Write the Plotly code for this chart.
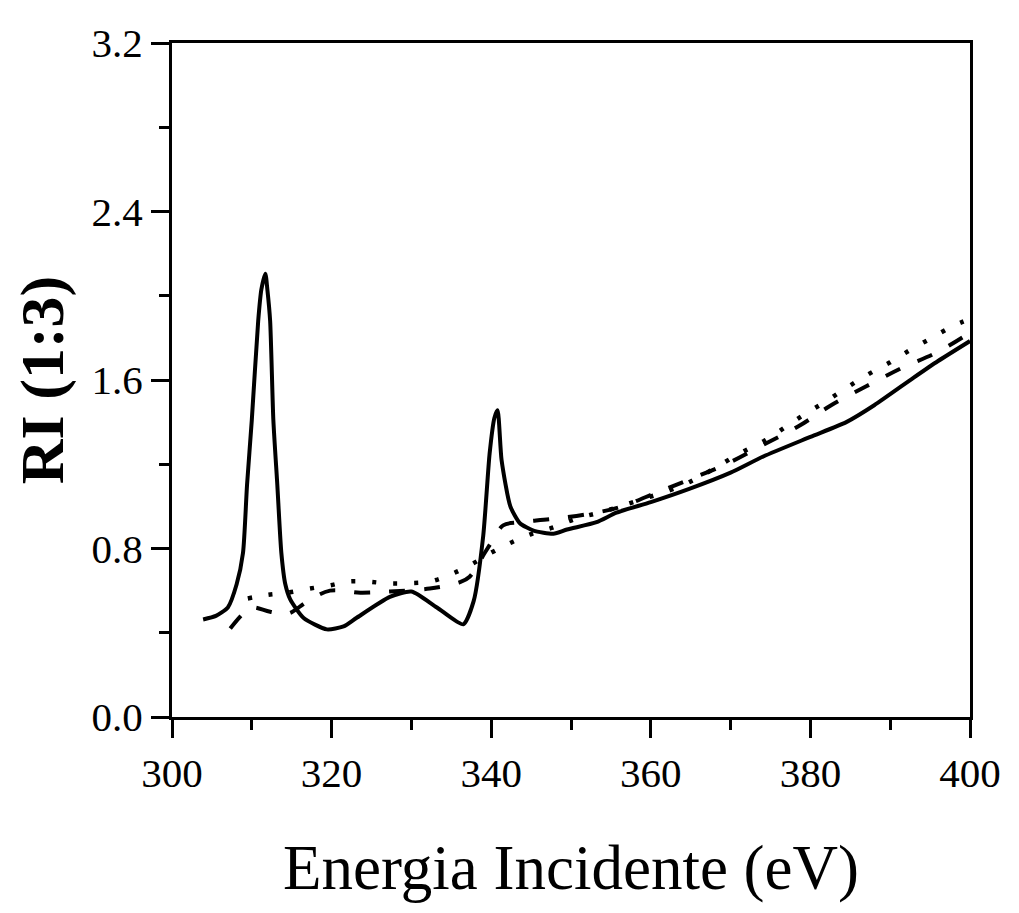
import plotly.graph_objects as go

# Solid curve
solid_e = [303.9, 305.5, 307.0, 308.1, 308.9, 309.4, 310.0, 310.8, 311.2, 311.7,
           311.95, 312.3, 312.7, 313.2, 313.7, 314.2, 314.8, 316.5, 319.4, 321.5,
           323.1, 327.3, 330.0, 333.2, 336.5, 337.8, 339.0, 339.8, 340.4, 340.8,
           341.3, 342.4, 343.6, 345.3, 347.8, 349.5, 353.2, 355.7, 360.0,
           364.9, 370.0, 374.1, 380.0, 384.5, 388.0, 392.9, 396.0, 400.0]
solid_ri = [0.463, 0.48, 0.52, 0.63, 0.78, 1.10, 1.41, 1.88, 2.03, 2.105,
            2.03, 1.88, 1.41, 1.10, 0.78, 0.63, 0.56, 0.47, 0.416, 0.43,
            0.47, 0.57, 0.596, 0.52, 0.44, 0.55, 0.86, 1.25, 1.42, 1.456,
            1.22, 1.0, 0.92, 0.885, 0.87, 0.89, 0.925, 0.97, 1.02,
            1.084, 1.16, 1.237, 1.33, 1.40, 1.48, 1.61, 1.69, 1.785]

# Dashed curve
dash_e = [307.3, 308.9, 310.0, 312.3, 314.5, 317.0, 319.8, 323.6, 327.3, 332.3,
          336.1, 337.3, 339.2, 340.2, 341.5, 343.5, 347.5, 352.0, 356.0, 361.0,
          365.0, 369.7, 374.0, 378.5, 382.6, 387.0, 391.6, 395.8, 400.0]
dash_ri = [0.42, 0.49, 0.52, 0.50, 0.49, 0.55, 0.60, 0.59, 0.596, 0.61,
           0.64, 0.666, 0.78, 0.84, 0.91, 0.925, 0.94, 0.963, 0.995, 1.07,
           1.13, 1.205, 1.29, 1.38, 1.48, 1.57, 1.66, 1.73, 1.825]

# Dotted curve
dot_e = [309.5, 312.0, 314.5, 317.3, 319.8, 322.0, 324.4, 326.9, 329.4, 332.3,
         334.8, 337.3, 340.0, 342.6, 345.1, 347.8, 350.5, 354.0, 358.2, 363.7,
         367.5, 371.2, 374.4, 376.9, 379.4, 382.0, 384.7, 387.3, 390.0, 392.6,
         395.2, 397.8, 400.0]
dot_ri = [0.563, 0.58, 0.59, 0.61, 0.625, 0.643, 0.643, 0.635, 0.635, 0.643,
          0.675, 0.72, 0.78, 0.83, 0.87, 0.90, 0.94, 0.975, 1.025, 1.096,
          1.17, 1.253, 1.315, 1.378, 1.44, 1.50, 1.567, 1.628, 1.684, 1.745,
          1.80, 1.855, 1.89]

FONT = "Liberation Serif, Times New Roman, serif"

fig = go.Figure()
fig.add_trace(go.Scatter(x=dot_e, y=dot_ri, mode="lines",
                         line=dict(color="black", width=4.5, dash="4px,17px", shape="spline"),
                         showlegend=False))
fig.add_trace(go.Scatter(x=dash_e, y=dash_ri, mode="lines",
                         line=dict(color="black", width=4, dash="16px,19px", shape="spline"),
                         showlegend=False))
fig.add_trace(go.Scatter(x=solid_e, y=solid_ri, mode="lines",
                         line=dict(color="black", width=4, shape="spline", smoothing=0.6),
                         showlegend=False))

axis_common = dict(
    showline=True, linecolor="black", linewidth=3, mirror=True,
    showgrid=False, zeroline=False,
    ticks="outside", tickcolor="black", tickwidth=3, ticklen=18,
    tickfont=dict(family=FONT, size=41, color="black"),
)

fig.update_xaxes(range=[300, 400], dtick=20, tick0=300,
                 minor=dict(dtick=10, ticks="outside", ticklen=10, tickwidth=3, tickcolor="black"),
                 title=dict(text="Energia Incidente (eV)", standoff=50,
                            font=dict(family=FONT, size=63, color="black")),
                 **axis_common)
fig.update_yaxes(range=[0, 3.2], dtick=0.8, tick0=0, tickformat=".1f",
                 minor=dict(dtick=0.4, ticks="outside", ticklen=10, tickwidth=3, tickcolor="black"),
                 title=dict(text="<b>RI (1:3)</b>", standoff=16,
                            font=dict(family=FONT, size=62, color="black")),
                 **axis_common)

# page body adds an 8px offset, so size and margins are trimmed for it
fig.update_layout(
    width=1011, height=905,
    margin=dict(l=164, r=49, t=26, b=196),
    plot_bgcolor="white", paper_bgcolor="white",
)

fig.write_html("out.html")
